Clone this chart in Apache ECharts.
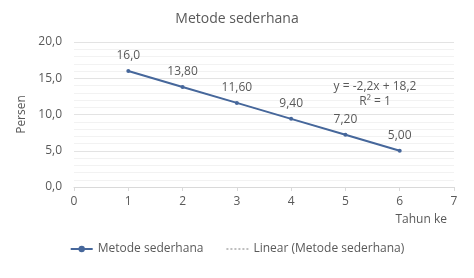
<!DOCTYPE html>
<html>
<head>
<meta charset="utf-8">
<script src="https://cdn.jsdelivr.net/npm/echarts@6/dist/echarts.min.js"></script>
<style>
  html, body { margin: 0; padding: 0; background: #fff; }
  #chart { width: 474px; height: 278px; }
</style>
</head>
<body>
<div id="chart"></div>
<script>
var tahun = [1, 2, 3, 4, 5, 6];
var persen = [16.0, 13.8, 11.6, 9.4, 7.2, 5.0];
var labelTeks = ['16,0', '13,80', '11,60', '9,40', '7,20', '5,00'];
var trendX = [1, 6];
var trendY = [16.0, 5.0];

var fontFam = '"Open Sans", "Noto Sans", sans-serif';
var abu = '#595959';

function koma(v, d) {
    return v.toFixed(d).replace('.', ',');
}

var dataUtama = tahun.map(function (x, i) { return [x, persen[i]]; });
var dataTrend = trendX.map(function (x, i) { return [x, trendY[i]]; });

var chart = echarts.init(document.getElementById('chart'));
var option = {
    animation: false,
    title: {
        text: 'Metode sederhana',
        left: 'center',
        top: 7,
        textStyle: { color: abu, fontSize: 14, fontWeight: 'normal', fontFamily: fontFam }
    },
    grid: { left: 74, right: 20, top: 42, bottom: 91 },
    legend: {
        bottom: 18,
        left: 'center',
        itemWidth: 22,
        itemHeight: 8,
        itemGap: 22,
        textStyle: { color: abu, fontSize: 12, fontFamily: fontFam },
        data: [
            { name: 'Metode sederhana' },
            { name: 'Linear (Metode sederhana)', itemStyle: { opacity: 0 } }
        ]
    },
    xAxis: {
        type: 'value',
        min: 0,
        max: 7,
        interval: 1,
        name: 'Tahun ke',
        nameLocation: 'end',
        nameGap: 0,
        nameTextStyle: {
            color: abu, fontSize: 12, fontFamily: fontFam,
            align: 'right', verticalAlign: 'top', padding: [27, 7, 0, 0]
        },
        axisLine: { show: true, lineStyle: { color: '#d9d9d9' } },
        axisTick: { show: true, length: 4, lineStyle: { color: '#d9d9d9' } },
        axisLabel: { color: abu, fontSize: 12, fontFamily: fontFam, margin: 9 },
        splitLine: { show: false }
    },
    yAxis: {
        type: 'value',
        min: 0,
        max: 20,
        interval: 5,
        name: 'Persen',
        nameLocation: 'middle',
        nameGap: 44,
        nameTextStyle: { color: abu, fontSize: 12, fontFamily: fontFam },
        axisLine: { show: false },
        axisTick: { show: false },
        axisLabel: {
            color: abu, fontSize: 12, fontFamily: fontFam, margin: 12,
            formatter: function (v) { return koma(v, 1); }
        },
        splitLine: { lineStyle: { color: '#e3e3e3' } },
        minorTick: { show: false, splitNumber: 5 },
        minorSplitLine: { show: true, lineStyle: { color: '#f2f2f2' } }
    },
    series: [
        {
            name: 'Linear (Metode sederhana)',
            type: 'line',
            data: dataTrend,
            symbol: 'none',
            color: '#bfbfbf',
            lineStyle: { color: '#bfbfbf', width: 1, type: 'dotted' },
            z: 1
        },
        {
            name: 'Metode sederhana',
            type: 'line',
            data: dataUtama,
            symbol: 'circle',
            symbolSize: 4,
            color: '#46679b',
            lineStyle: { color: '#46679b', width: 2 },
            itemStyle: { color: '#46679b' },
            label: {
                show: true,
                position: 'top',
                distance: 7,
                color: abu,
                fontSize: 12,
                fontFamily: fontFam,
                formatter: function (p) { return labelTeks[p.dataIndex]; }
            },
            z: 3
        }
    ],
    graphic: [
        {
            type: 'text',
            x: 375, y: 87,
            z: 100,
            style: {
                text: 'y = -2,2x + 18,2',
                align: 'center', verticalAlign: 'middle',
                fill: abu, fontSize: 12, fontFamily: fontFam
            }
        },
        {
            type: 'text',
            x: 375, y: 102,
            z: 100,
            style: {
                text: 'R² = 1',
                align: 'center', verticalAlign: 'middle',
                fill: abu, fontSize: 12, fontFamily: fontFam
            }
        }
    ]
};
chart.setOption(option);
</script>
</body>
</html>
